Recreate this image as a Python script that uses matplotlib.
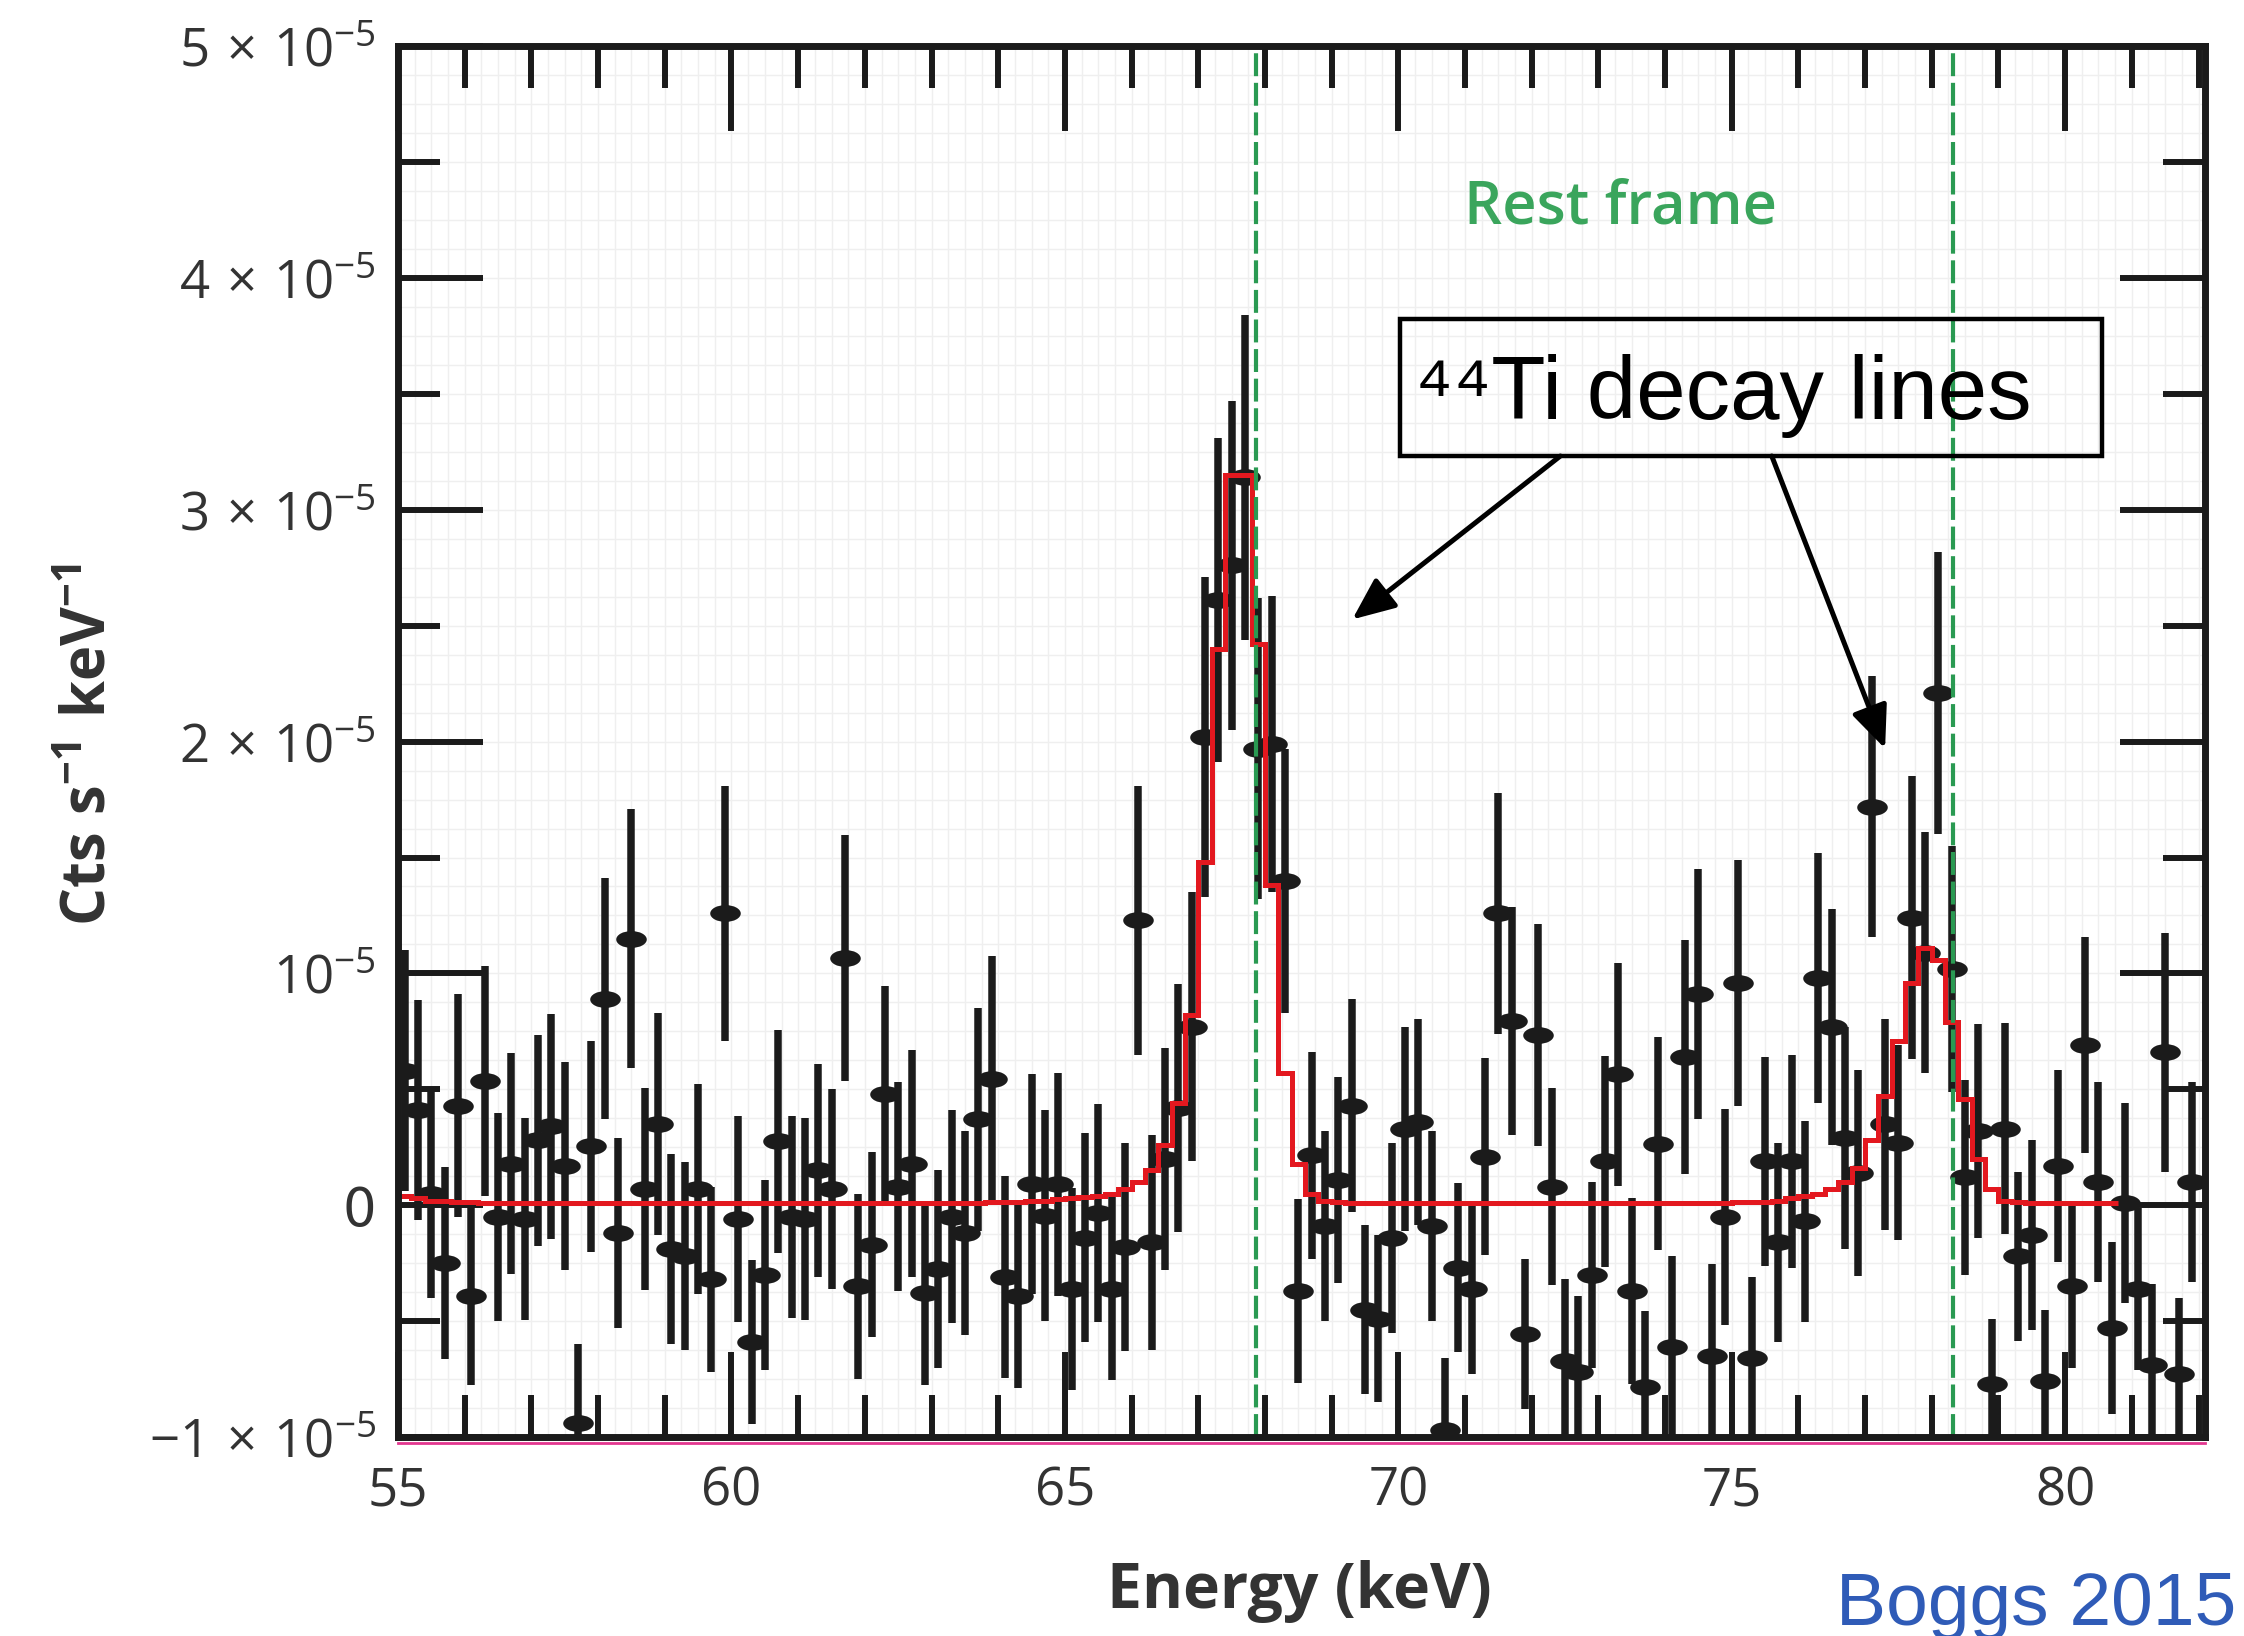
import numpy as np
import matplotlib
matplotlib.use("Agg")
import matplotlib.pyplot as plt
from matplotlib.path import Path
from matplotlib.markers import MarkerStyle
from matplotlib.transforms import Affine2D
from matplotlib.patches import Rectangle
from matplotlib.ticker import MultipleLocator

plt.rcParams['mathtext.fontset'] = 'custom'
plt.rcParams['mathtext.rm'] = 'Open Sans'
plt.rcParams['mathtext.it'] = 'Open Sans:italic'
plt.rcParams['mathtext.bf'] = 'Open Sans:bold'

UNIT = 1e-5  # count rates below are in units of 1e-5 cts/s/keV

# Channel energies (keV), 0.2 keV channels
energy = [
    55.1, 55.3, 55.5, 55.7, 55.9, 56.1, 56.3, 56.5, 56.7, 56.9,
    57.1, 57.3, 57.5, 57.7, 57.9, 58.1, 58.3, 58.5, 58.7, 58.9,
    59.1, 59.3, 59.5, 59.7, 59.9, 60.1, 60.3, 60.5, 60.7, 60.9,
    61.1, 61.3, 61.5, 61.7, 61.9, 62.1, 62.3, 62.5, 62.7, 62.9,
    63.1, 63.3, 63.5, 63.7, 63.9, 64.1, 64.3, 64.5, 64.7, 64.9,
    65.1, 65.3, 65.5, 65.7, 65.9, 66.1, 66.3, 66.5, 66.7, 66.9,
    67.1, 67.3, 67.5, 67.7, 67.9, 68.1, 68.3, 68.5, 68.7, 68.9,
    69.1, 69.3, 69.5, 69.7, 69.9, 70.1, 70.3, 70.5, 70.7, 70.9,
    71.1, 71.3, 71.5, 71.7, 71.9, 72.1, 72.3, 72.5, 72.7, 72.9,
    73.1, 73.3, 73.5, 73.7, 73.9, 74.1, 74.3, 74.5, 74.7, 74.9,
    75.1, 75.3, 75.5, 75.7, 75.9, 76.1, 76.3, 76.5, 76.7, 76.9,
    77.1, 77.3, 77.5, 77.7, 77.9, 78.1, 78.3, 78.5, 78.7, 78.9,
    79.1, 79.3, 79.5, 79.7, 79.9, 80.1, 80.3, 80.5, 80.7, 80.9,
    81.1, 81.3, 81.5, 81.7, 81.9,
]

# Measured rate per channel
rate = [
    0.58, 0.41, 0.05, -0.25, 0.43, -0.39, 0.535, -0.05, 0.18, -0.06,
    0.28, 0.34, 0.17, -0.94, 0.255, 0.89, -0.12, 1.15, 0.07, 0.35,
    -0.19, -0.22, 0.07, -0.32, 1.26, -0.06, -0.59, -0.30, 0.275, -0.05,
    -0.06, 0.15, 0.07, 1.065, -0.35, -0.17, 0.48, 0.08, 0.18, -0.38,
    -0.275, -0.05, -0.12, 0.37, 0.545, -0.31, -0.39, 0.09, -0.045, 0.09,
    -0.36, -0.14, -0.035, -0.36, -0.18, 1.23, -0.16, 0.20, 0.42, 0.77,
    2.02, 2.61, 2.76, 3.14, 1.97, 1.99, 1.40, -0.37, 0.215, -0.09,
    0.11, 0.43, -0.45, -0.49, -0.14, 0.33, 0.36, -0.09, -0.97, -0.27,
    -0.36, 0.21, 1.26, 0.795, -0.555, 0.735, 0.08, -0.67, -0.72, -0.30,
    0.19, 0.565, -0.37, -0.785, 0.265, -0.61, 0.64, 0.91, -0.65, -0.05,
    0.96, -0.66, 0.19, -0.16, 0.19, -0.07, 0.98, 0.77, 0.29, 0.14,
    1.72, 0.35, 0.27, 1.24, 1.09, 2.21, 1.02, 0.12, 0.32, -0.77,
    0.33, -0.22, -0.13, -0.76, 0.17, -0.35, 0.69, 0.10, -0.53, 0.01,
    -0.36, -0.69, 0.66, -0.73, 0.10,
]

# 1-sigma uncertainty per channel
rate_err = [
    0.52, 0.475, 0.45, 0.415, 0.48, 0.385, 0.495, 0.45, 0.475, 0.435,
    0.455, 0.485, 0.45, 0.34, 0.455, 0.52, 0.41, 0.56, 0.435, 0.48,
    0.41, 0.405, 0.455, 0.40, 0.55, 0.445, 0.355, 0.41, 0.48, 0.435,
    0.435, 0.46, 0.43, 0.53, 0.40, 0.40, 0.465, 0.45, 0.49, 0.395,
    0.425, 0.46, 0.44, 0.48, 0.53, 0.435, 0.40, 0.475, 0.455, 0.48,
    0.435, 0.45, 0.47, 0.395, 0.45, 0.58, 0.465, 0.48, 0.535, 0.58,
    0.69, 0.70, 0.71, 0.70, 0.65, 0.64, 0.57, 0.395, 0.445, 0.41,
    0.445, 0.46, 0.365, 0.36, 0.41, 0.44, 0.445, 0.41, 0.31, 0.365,
    0.37, 0.425, 0.52, 0.49, 0.325, 0.48, 0.425, 0.35, 0.33, 0.40,
    0.455, 0.48, 0.40, 0.33, 0.46, 0.39, 0.505, 0.54, 0.395, 0.465,
    0.53, 0.35, 0.45, 0.43, 0.46, 0.435, 0.54, 0.51, 0.48, 0.445,
    0.565, 0.455, 0.42, 0.61, 0.52, 0.61, 0.53, 0.42, 0.46, 0.28,
    0.455, 0.365, 0.41, 0.31, 0.415, 0.35, 0.465, 0.43, 0.37, 0.43,
    0.35, 0.35, 0.515, 0.33, 0.43,
]

# Folded model (continuum + two Gaussian lines), one value per channel up to 80.7 keV
model = [
    0.04, 0.03, 0.02, 0.02, 0.015, 0.012, 0.01, 0.01, 0.01, 0.01,
    0.01, 0.01, 0.01, 0.01, 0.01, 0.01, 0.01, 0.01, 0.01, 0.01,
    0.01, 0.01, 0.01, 0.01, 0.01, 0.01, 0.01, 0.01, 0.01, 0.01,
    0.01, 0.01, 0.01, 0.01, 0.01, 0.01, 0.01, 0.01, 0.01, 0.01,
    0.01, 0.01, 0.01, 0.01, 0.012, 0.014, 0.015, 0.02, 0.02, 0.025,
    0.03, 0.035, 0.04, 0.05, 0.07, 0.10, 0.15, 0.26, 0.44, 0.82,
    1.48, 2.40, 3.15, 3.15, 2.42, 1.38, 0.57, 0.18, 0.05, 0.02,
    0.015, 0.01, 0.01, 0.01, 0.01, 0.01, 0.01, 0.01, 0.01, 0.01,
    0.01, 0.01, 0.01, 0.01, 0.01, 0.01, 0.01, 0.01, 0.01, 0.01,
    0.01, 0.01, 0.01, 0.01, 0.01, 0.01, 0.01, 0.01, 0.01, 0.01,
    0.012, 0.014, 0.016, 0.02, 0.03, 0.04, 0.05, 0.07, 0.10, 0.16,
    0.28, 0.47, 0.71, 0.96, 1.11, 1.06, 0.79, 0.46, 0.20, 0.07,
    0.02, 0.012, 0.01, 0.01, 0.01, 0.01, 0.01, 0.01, 0.01,
]

# 44Ti rest-frame line energies (keV)
rest_lines = [67.87, 78.32]

ytick_values = [-1, 0, 1, 2, 3, 4, 5]
ytick_labels = [r'$-1\,\times\,10^{-5}$', '0', r'$10^{-5}$', r'$2\,\times\,10^{-5}$',
                r'$3\,\times\,10^{-5}$', r'$4\,\times\,10^{-5}$', r'$5\,\times\,10^{-5}$']
xtick_values = [55, 60, 65, 70, 75, 80]

CHANNEL_HALF = 0.1
INK = '#1b1b1b'

fig = plt.figure(figsize=(22.44, 16.36), dpi=100)
ax = fig.add_axes([0.1774, 0.1216, 0.8053, 0.8502])
ax.set_xlim(55, 82.1)
ax.set_ylim(-1 * UNIT, 5 * UNIT)

# faint background grid
for gx in np.arange(55.25, 82.1, 0.25):
    ax.axvline(gx, color='#efefef', lw=1.0, zorder=0)
for gy in np.arange(-1, 5, 0.125):
    ax.axhline(gy * UNIT, color='#efefef', lw=1.0, zorder=0)

e = np.array(energy)
r = np.array(rate) * UNIT
re = np.array(rate_err) * UNIT

# flattened elliptical data marker
ell = Path.unit_circle().transformed(Affine2D().scale(1.0, 0.55))
ax.errorbar(e, r, yerr=re, xerr=CHANNEL_HALF, fmt='none', ecolor=INK,
            elinewidth=5.4, capsize=0, zorder=3)
ax.scatter(e, r, marker=MarkerStyle(ell), s=22 ** 2, c=INK, linewidths=0,
           zorder=3.5)

# model histogram
m = np.array(model) * UNIT
me = e[:len(model)]
edges = np.append(me - CHANNEL_HALF, me[-1] + CHANNEL_HALF)
ax.stairs(m, edges, color='#e3181f', lw=3.6, zorder=4, baseline=None)

for ln in rest_lines:
    ax.axvline(ln, color='#2a9a52', lw=3.0, linestyle=(0, (5.5, 1.6)), zorder=5)

ax.text(73.33, 4.30 * UNIT, 'Rest frame', color='#3aa55c', fontsize=43,
        fontfamily='Open Sans', fontweight='semibold', ha='center', va='center',
        zorder=6)

# annotation box
ax.add_patch(Rectangle((70.03, 3.232 * UNIT), 10.53, 0.591 * UNIT, fill=False,
                       edgecolor='black', lw=3.2, zorder=6))
ax.text(70.25, 3.39 * UNIT, '\u2074\u2074Ti decay lines', fontsize=64,
        family=['Liberation Sans', 'DejaVu Sans'], color='black',
        ha='left', va='baseline', zorder=6)
arrow = dict(arrowstyle='-|>,head_length=0.65,head_width=0.28', lw=3.6,
             color='black', mutation_scale=40, shrinkA=0, shrinkB=0)
ax.annotate('', xy=(69.31, 2.527 * UNIT), xytext=(72.43, 3.232 * UNIT),
            arrowprops=arrow, zorder=6)
ax.annotate('', xy=(77.3, 1.97 * UNIT), xytext=(75.6, 3.232 * UNIT),
            arrowprops=arrow, zorder=6)

# axes styling
for sp in ax.spines.values():
    sp.set_linewidth(5)
    sp.set_color(INK)
    sp.set_zorder(7)
ax.plot([0, 1], [-0.0045, -0.0045], transform=ax.transAxes, color='#e2378f',
        lw=2.0, clip_on=False, zorder=7)

ax.set_xticks(xtick_values)
ax.xaxis.set_minor_locator(MultipleLocator(1))
ax.set_yticks([v * UNIT for v in ytick_values])
ax.set_yticklabels(ytick_labels)
ax.yaxis.set_minor_locator(MultipleLocator(0.5 * UNIT))
ax.tick_params(which='major', direction='in', length=61, width=4.3,
               top=True, right=True, labelsize=38, labelcolor='#333333',
               color=INK)
ax.tick_params(axis='x', which='major', pad=20)
ax.tick_params(axis='y', which='major', pad=16)
ax.tick_params(which='minor', direction='in', length=30, width=4.3,
               top=True, right=True, color=INK)
for lab in ax.get_xticklabels():
    lab.set_fontfamily('Open Sans')

fig.text(0.579, 0.0275, 'Energy (keV)', fontsize=45, fontweight='bold',
         fontfamily='Open Sans', color='#333333', ha='center', va='center')
fig.text(0.0397, 0.545, r'$\mathbf{Cts\ s^{-1}\ keV^{-1}}$', fontsize=43,
         color='#333333', rotation=90, ha='center', va='center')
fig.text(0.9964, 0.0065, 'Boggs 2015', fontsize=54, fontfamily='Liberation Sans',
         color='#2f5bb7', ha='right', va='baseline')

fig.savefig('out.png', dpi=100, facecolor='white')
